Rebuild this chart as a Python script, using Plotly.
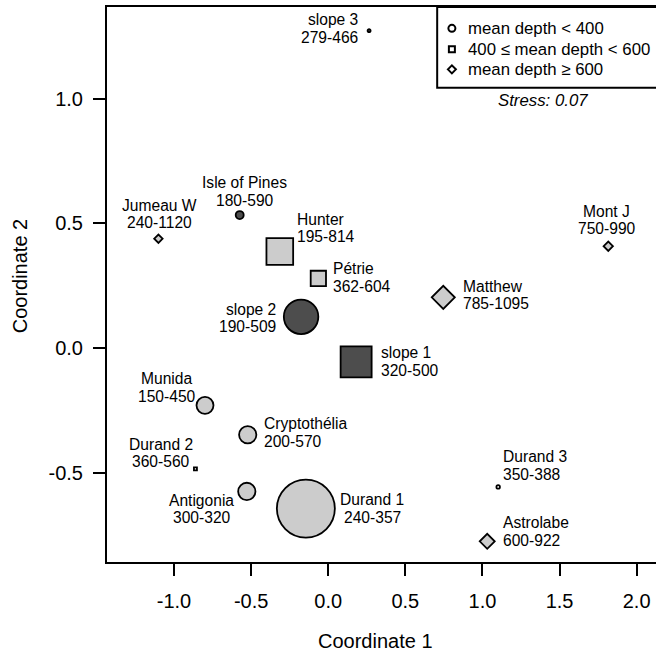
import plotly.graph_objects as go

W, H = 656, 655

# ---------------- data ----------------
sites = ["slope 3", "Isle of Pines", "Jumeau W", "Hunter", "Pétrie", "slope 2",
         "Matthew", "Mont J", "slope 1", "Munida", "Cryptothélia", "Durand 2",
         "Antigonia", "Durand 1", "Durand 3", "Astrolabe"]
depth_min = [279, 180, 240, 195, 362, 190, 785, 750, 320, 150, 200, 360, 300, 240, 350, 600]
depth_max = [466, 590, 1120, 814, 604, 509, 1095, 990, 500, 450, 570, 560, 320, 357, 388, 922]
coord1 = [0.265, -0.574, -1.101, -0.314, -0.064, -0.176, 0.746, 1.816, 0.181,
          -0.799, -0.522, -0.861, -0.528, -0.145, 1.102, 1.031]
coord2 = [1.272, 0.533, 0.438, 0.387, 0.279, 0.125, 0.203, 0.408, -0.056,
          -0.230, -0.348, -0.485, -0.575, -0.644, -0.557, -0.775]
fill_group = ["dark", "dark", "light", "light", "light", "dark", "light", "light", "dark",
              "light", "light", "none", "light", "light", "none", "light"]
marker_px = [3.0, 8.0, 6.5, 26.7, 15.3, 34.5, 17.7, 7.2, 31.0,
             17.0, 17.3, 3.0, 17.3, 58.0, 3.5, 11.5]

x_ticks = [-1.0, -0.5, 0.0, 0.5, 1.0, 1.5, 2.0]
y_ticks = [-0.5, 0.0, 0.5, 1.0]
legend_labels = ["mean depth < 400", "400 ≤ mean depth < 600", "mean depth ≥ 600"]
stress = 0.07

# ---------------- styles / layout ----------------
FONT = "Liberation Sans, Arial, Helvetica, sans-serif"
fill_colors = {"dark": "#4d4d4d", "light": "#cccccc", "none": "#ffffff"}

def depth_symbol(lo, hi):
    m = (lo + hi) / 2
    if m < 400:
        return "circle"
    if m < 600:
        return "square"
    return "diamond"

symbols = [depth_symbol(a, b) for a, b in zip(depth_min, depth_max)]
ranges_txt = [f"{a}-{b}" for a, b in zip(depth_min, depth_max)]

# label placement: (anchor, dx px, dy px of block centre, screen-down positive)
label_pos = {
    "slope 3": ("right", -11.3, -2.0),
    "Isle of Pines": ("center", 5.0, -23.7),
    "Jumeau W": ("center", 0.6, -24.9),
    "Hunter": ("left", 17.5, -23.4),
    "Pétrie": ("left", 14.5, -0.8),
    "slope 2": ("right", -25.3, 1.3),
    "Matthew": ("left", 19.3, -2.5),
    "Mont J": ("center", -1.3, -26.0),
    "slope 1": ("left", 24.4, -0.4),
    "Munida": ("center", -38.3, -18.0),
    "Cryptothélia": ("left", 16.2, -2.3),
    "Durand 2": ("center", -34.0, -16.0),
    "Antigonia": ("center", -45.3, 17.5),
    "Durand 1": ("center", 66.5, 0.0),
    "Durand 3": ("left", 5.0, -21.4),
    "Astrolabe": ("left", 16.0, -9.7),
}
LINE_GAP = 17.5

# plot area in pixels
L, R, T, B = 107.3, 656.0, 7.0, 561.7
X0PX, XSCALE = 328.4, 154.13
Y0PX, YSCALE = 347.8, 249.3
xr = [(L - X0PX) / XSCALE, (R - X0PX) / XSCALE]
yr = [(Y0PX - B) / YSCALE, (Y0PX - T) / YSCALE]

def px(xp):
    return (xp - L) / (R - L)

def py(yp):
    return (B - yp) / (B - T)

fig = go.Figure()
fig.add_trace(go.Scatter(
    x=coord1, y=coord2, mode="markers",
    marker=dict(symbol=symbols, size=marker_px, opacity=1,
                color=[fill_colors[g] for g in fill_group],
                line=dict(color="black", width=1.8)),
    hovertext=sites, showlegend=False))

ann = []
for i, s in enumerate(sites):
    anchor, dx, dy = label_pos[s]
    for line, off in ((s, -LINE_GAP / 2), (ranges_txt[i], LINE_GAP / 2)):
        ann.append(dict(x=coord1[i], y=coord2[i], xref="x", yref="y", text=line,
                        showarrow=False, xanchor=anchor, yanchor="middle", align=anchor,
                        xshift=dx, yshift=-(dy + off), borderpad=0, borderwidth=0,
                        font=dict(family=FONT, size=15.6, color="black")))

# axis titles
ann.append(dict(x=px(376), y=py(641), xref="paper", yref="paper", text="Coordinate 1",
                showarrow=False, xanchor="center", yanchor="middle",
                font=dict(family=FONT, size=20, color="black")))
ann.append(dict(x=px(20), y=py(275.5), xref="paper", yref="paper", text="Coordinate 2",
                showarrow=False, xanchor="center", yanchor="middle", textangle=-90,
                font=dict(family=FONT, size=20, color="black")))

# legend (drawn as box + symbols + text)
shapes = [dict(type="rect", xref="paper", yref="paper", x0=px(437.3), x1=1.02,
               y0=py(87.7), y1=1.0, line=dict(color="black", width=2),
               fillcolor="white", layer="above")]
rows = [28.3, 49.3, 69.3]
sx = 452.0
lw = 2
r = 3.5
shapes.append(dict(type="circle", xref="paper", yref="paper",
                   x0=px(sx - r), x1=px(sx + r), y0=py(rows[0] + r), y1=py(rows[0] - r),
                   line=dict(color="black", width=lw), fillcolor="white", layer="above"))
h = 3.0
shapes.append(dict(type="rect", xref="paper", yref="paper",
                   x0=px(sx - h), x1=px(sx + h), y0=py(rows[1] + h), y1=py(rows[1] - h),
                   line=dict(color="black", width=lw), fillcolor="white", layer="above"))
d = 4.0
yc = rows[2]
path = (f"M {px(sx - d)} {py(yc)} L {px(sx)} {py(yc - d)} L {px(sx + d)} {py(yc)} "
        f"L {px(sx)} {py(yc + d)} Z")
shapes.append(dict(type="path", xref="paper", yref="paper", path=path,
                   line=dict(color="black", width=lw), fillcolor="white", layer="above"))
for txt, ry in zip(legend_labels, rows):
    ann.append(dict(x=px(468.3), y=py(ry), xref="paper", yref="paper", text=txt,
                    showarrow=False, xanchor="left", yanchor="middle",
                    borderpad=0, borderwidth=0,
                    font=dict(family=FONT, size=16.8, color="black")))
ann.append(dict(x=px(543), y=py(100), xref="paper", yref="paper",
                text=f"<i>Stress: {stress:.2f}</i>", showarrow=False,
                xanchor="center", yanchor="middle",
                font=dict(family=FONT, size=16.8, color="black")))

axis_common = dict(showgrid=False, zeroline=False, showline=True, linecolor="black",
                   linewidth=2, ticks="outside", ticklen=12, tickwidth=2,
                   tickcolor="black", tickfont=dict(family=FONT, size=20, color="black"))

fig.update_layout(
    width=W, height=H,
    margin=dict(l=L, r=W - R, t=T, b=H - B, pad=0),
    paper_bgcolor="white", plot_bgcolor="white",
    xaxis=dict(range=xr, tickvals=x_ticks, ticktext=[f"{v:.1f}" for v in x_ticks],
               mirror=True, ticklabelstandoff=8, **axis_common),
    yaxis=dict(range=yr, tickvals=y_ticks, ticktext=[f"{v:.1f}" for v in y_ticks],
               ticklabelstandoff=6, **axis_common),
    annotations=ann, shapes=shapes, showlegend=False,
    font=dict(family=FONT),
)

fig.write_html("out.html", config={"displayModeBar": False},
               post_script="document.body.style.margin='0';document.body.style.overflow='hidden';")
